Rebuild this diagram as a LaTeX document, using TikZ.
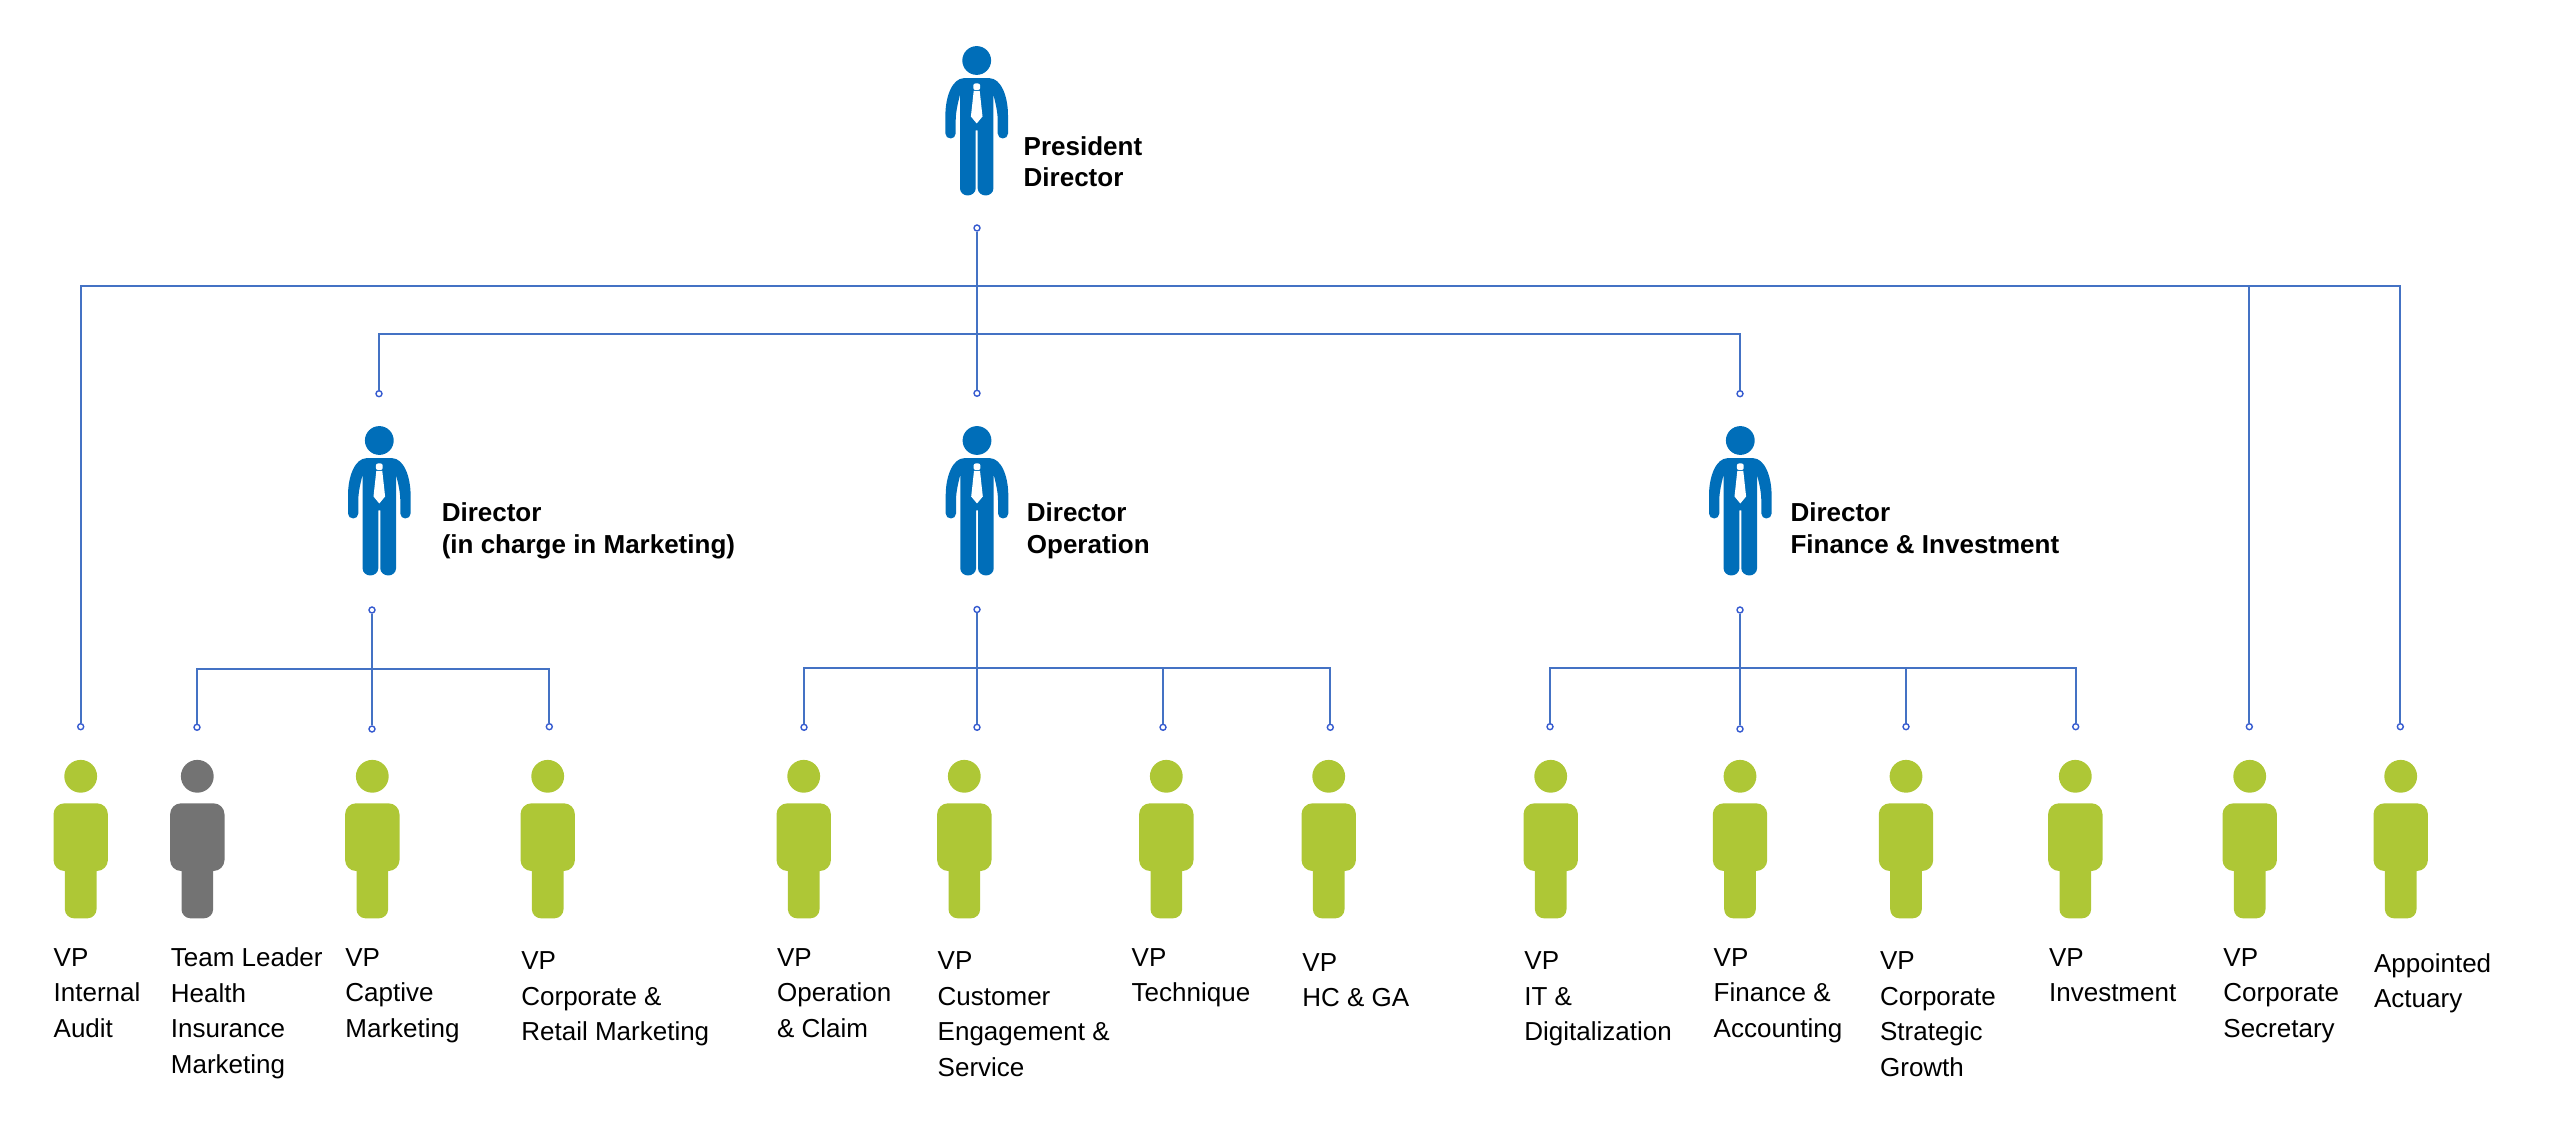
\documentclass[tikz,border=0pt]{standalone}
\usepackage{fontspec}
\setmainfont{Liberation Sans}
\usetikzlibrary{positioning}

\definecolor{dirblue}{HTML}{006EB9}
\definecolor{vpgreen}{HTML}{AEC736}
\definecolor{tlgrey}{HTML}{737373}
\definecolor{linkblue}{HTML}{4472C4}

\tikzset{
    orgline/.style={draw=linkblue, line width=0.85pt},
    endpt/.style={circle, draw=linkblue!80!blue, fill=white, line width=0.7pt, inner sep=0pt, minimum size=3pt},
    vptext/.style={anchor=north west, align=left, inner sep=0pt, font=\fontsize{13}{17.8}\selectfont},
    dirtext/.style={anchor=north west, align=left, inner sep=0pt, font=\fontsize{13}{15.7}\selectfont\bfseries},
    dirman/.pic={
        \fill[dirblue] (0,0) circle (14.4);
        \fill[dirblue] (-1,70) -- (-1,128) .. controls (-1,132) and (-5,135) .. (-9,135)
            .. controls (-13,135) and (-16.7,132) .. (-16.7,128) -- (-16.7,34)
            .. controls (-18,40) and (-21,50) .. (-21,60) -- (-21,73)
            .. controls (-21,76) and (-23.5,78) .. (-26,78)
            .. controls (-29,78) and (-31.3,76) .. (-31.3,73) -- (-31.3,55)
            .. controls (-31.3,35) and (-24,18) .. (-13,17.7) -- (13,17.7)
            .. controls (24,18) and (31.3,35) .. (31.3,55) -- (31.3,73)
            .. controls (31.3,76) and (29,78) .. (26,78)
            .. controls (23.5,78) and (21,76) .. (21,73) -- (21,60)
            .. controls (21,50) and (18,40) .. (16.7,34) -- (16.7,128)
            .. controls (16.7,132) and (13,135) .. (9,135)
            .. controls (5,135) and (1,132) .. (1,128) -- (1,70) -- cycle;
        % tie
        \fill[white, rounded corners=1pt] (-3.4,23) rectangle (3.4,29.5);
        \fill[white] (-3,30.5) -- (3,30.5) -- (5.8,56) -- (0,63) -- (-5.8,56) -- cycle;
    },
    vpman/.pic={
        \fill[pic actions] (0,0) circle (16.4);
        \fill[pic actions, rounded corners=5.5pt] (-27.2,27) rectangle (27.2,94.7);
        \fill[pic actions, rounded corners=4.5pt] (-15.8,80) rectangle (15.8,142);
    }
}

\begin{document}
\begin{tikzpicture}[x=0.5pt, y=-0.5pt]
\useasboundingbox (0,0) rectangle (2560,1133);

% Directors
\pic at (976.7,60.5) {dirman};
\pic at (379.3,440.5) {dirman};
\pic at (977,440.5) {dirman};
\pic at (1740.3,440.5) {dirman};

\node[dirtext] (tP) at (1023.3,136) {President\\Director};
\node[dirtext] (tM) at (441.4,502.7) {Director\\(in charge in Marketing)};
\node[dirtext] (tO) at (1026.5,502.7) {Director\\Operation};
\node[dirtext] (tF) at (1790.1,502.7) {Director\\Finance \& Investment};

% VPs
\pic[fill=vpgreen] at (80.7,776.3) {vpman};
\pic[fill=tlgrey] at (197.3,776.3) {vpman};
\pic[fill=vpgreen] at (372.3,776.3) {vpman};
\pic[fill=vpgreen] at (547.7,776.3) {vpman};
\pic[fill=vpgreen] at (803.7,776.3) {vpman};
\pic[fill=vpgreen] at (964.3,776.3) {vpman};
\pic[fill=vpgreen] at (1166.3,776.3) {vpman};
\pic[fill=vpgreen] at (1328.7,776.3) {vpman};
\pic[fill=vpgreen] at (1550.7,776.3) {vpman};
\pic[fill=vpgreen] at (1740,776.3) {vpman};
\pic[fill=vpgreen] at (1906,776.3) {vpman};
\pic[fill=vpgreen] at (2075.3,776.3) {vpman};
\pic[fill=vpgreen] at (2249.7,776.3) {vpman};
\pic[fill=vpgreen] at (2400.7,776.3) {vpman};

% Labels under the VPs
\node[vptext] (t1) at (53.3,948) {VP\\Internal\\Audit};
\node[vptext] (t2) at (170.5,947.2) {Team Leader\\Health\\Insurance\\Marketing};
\node[vptext] (t3) at (345,948) {VP\\Captive\\Marketing};
\node[vptext] (t4) at (521,951.3) {VP\\Corporate \&\\Retail Marketing};
\node[vptext] (t5) at (776.7,948) {VP\\Operation\\\& Claim};
\node[vptext] (t6) at (937.3,951.3) {VP\\Customer\\Engagement \&\\Service};
\node[vptext] (t7) at (1131.3,948) {VP\\Technique};
\node[vptext] (t8) at (1302,953) {VP\\HC \& GA};
\node[vptext] (t9) at (1524,951.3) {VP\\IT \&\\Digitalization};
\node[vptext] (t10) at (1713.3,948) {VP\\Finance \&\\Accounting};
\node[vptext] (t11) at (1879.7,951.3) {VP\\Corporate\\Strategic\\Growth};
\node[vptext] (t12) at (2048.7,948) {VP\\Investment};
\node[vptext] (t13) at (2223,948) {VP\\Corporate\\Secretary};
\node[vptext] (t14) at (2373.7,952.9) {Appointed\\Actuary};

% Connector ends
\node[endpt] (dP) at (977,228) {};
\node[endpt] (dM) at (379,393.7) {};
\node[endpt] (dO) at (977,393.3) {};
\node[endpt] (dF) at (1740,393.7) {};
\node[endpt] (lM) at (372,610) {};
\node[endpt] (lO) at (977,609.5) {};
\node[endpt] (lF) at (1740,610) {};

\node[endpt] (e1) at (80.7,726.7) {};
\node[endpt] (e2) at (197,727.3) {};
\node[endpt] (e3) at (372,729) {};
\node[endpt] (e4) at (549.3,726.7) {};
\node[endpt] (e5) at (804,727.3) {};
\node[endpt] (e6) at (977,727.3) {};
\node[endpt] (e7) at (1163,727.3) {};
\node[endpt] (e8) at (1330.3,727.3) {};
\node[endpt] (e9) at (1550,726.7) {};
\node[endpt] (e10) at (1740,729) {};
\node[endpt] (e11) at (1906,726.7) {};
\node[endpt] (e12) at (2075.7,726.7) {};
\node[endpt] (e13) at (2249.3,726.7) {};
\node[endpt] (e14) at (2400.3,726.7) {};

\coordinate (barTop) at (977,286);
\coordinate (barMid) at (977,334);
\coordinate (barM) at (372,669);
\coordinate (barO) at (977,667.7);
\coordinate (barF) at (1740,667.7);

% Lines
\draw[orgline, line width=1pt] (e1) |- (barTop) -| (e14);
\draw[orgline] (barTop -| e13) -- (e13);
\draw[orgline] (dP) -- (dO);
\draw[orgline] (dM) |- (barMid) -| (dF);

\draw[orgline] (e2) |- (barM) -| (e4);
\draw[orgline] (lM) -- (e3);

\draw[orgline] (e5) |- (barO) -| (e8);
\draw[orgline] (lO) -- (e6);
\draw[orgline] (barO -| e7) -- (e7);

\draw[orgline] (e9) |- (barF) -| (e12);
\draw[orgline] (lF) -- (e10);
\draw[orgline] (barF -| e11) -- (e11);

\end{tikzpicture}
\end{document}
